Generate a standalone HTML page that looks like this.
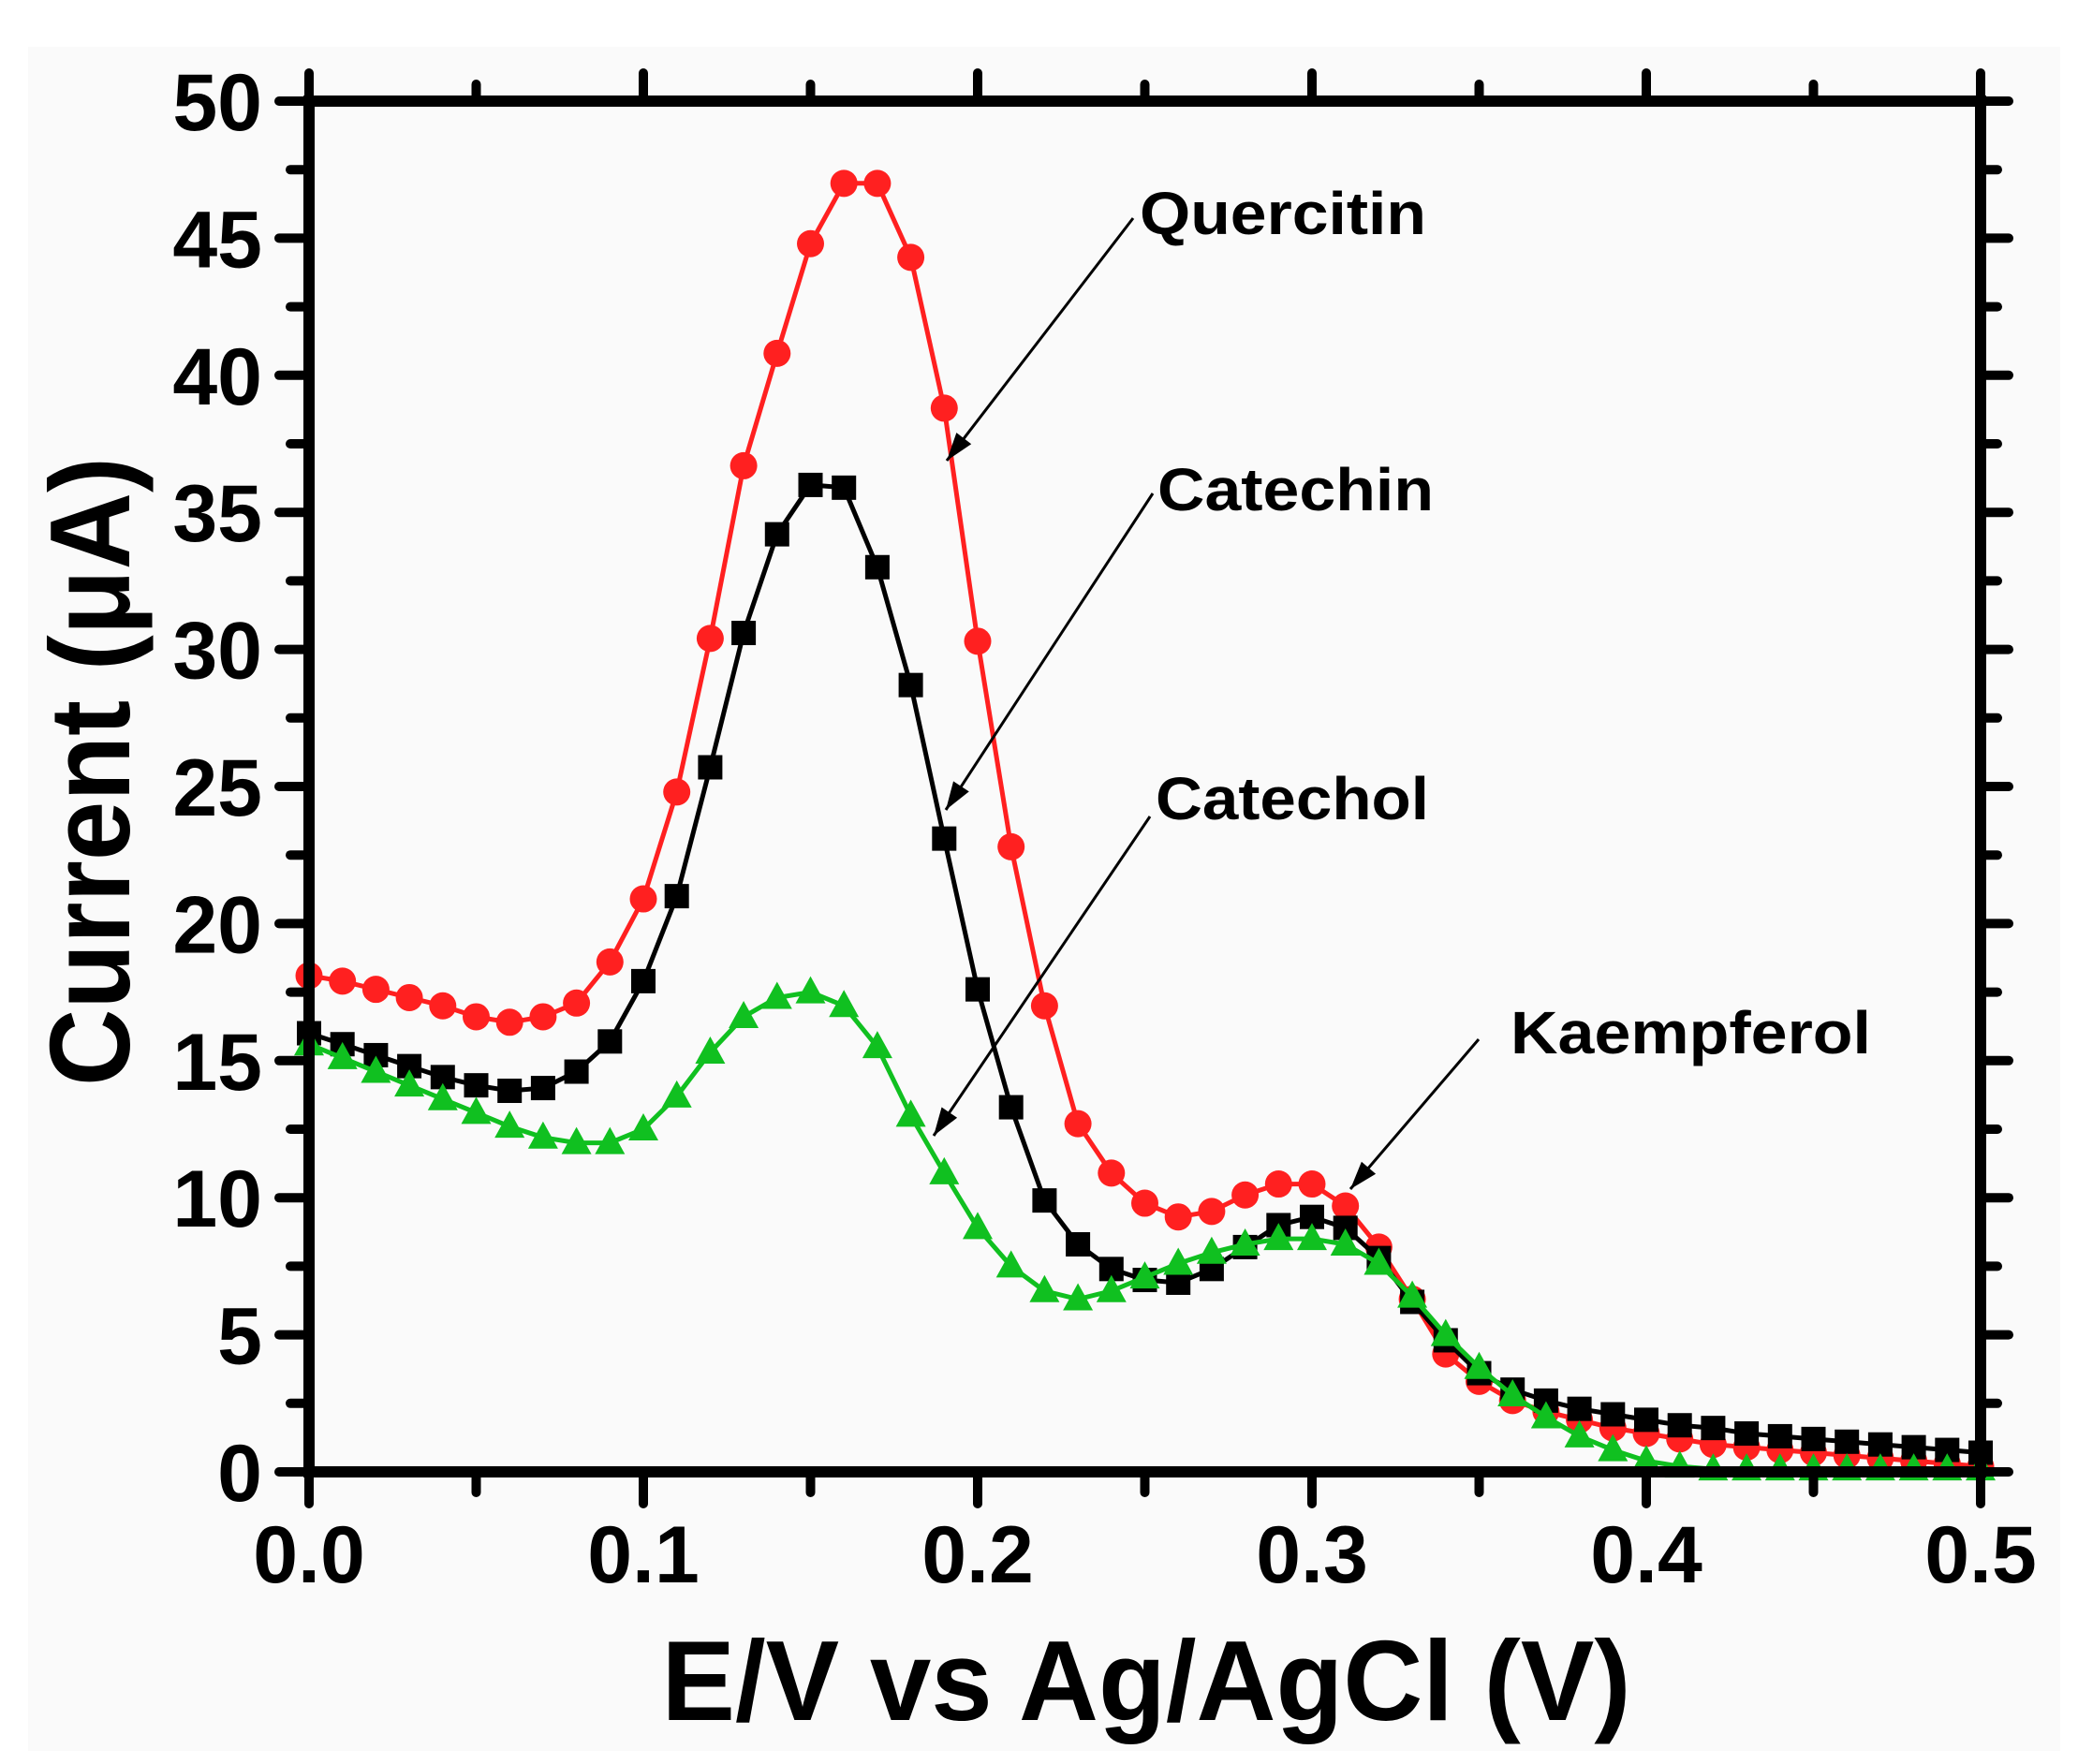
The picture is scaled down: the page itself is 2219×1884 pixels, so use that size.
<!DOCTYPE html>
<html><head><meta charset="utf-8"><style>
html,body{margin:0;padding:0;background:#fff;}
svg{display:block;}
text{font-family:"Liberation Sans",Arial,sans-serif;font-weight:bold;fill:#000;}
</style></head>
<body>
<svg id="chart" width="2219" height="1884" viewBox="0 0 2219 1884" xmlns="http://www.w3.org/2000/svg">
<rect x="0" y="0" width="2219" height="1884" fill="#fff"/>
<rect x="30" y="50" width="2170" height="1820" fill="#fafafa"/>
<g id="marks"></g>
<g id="axes"></g>
<g id="annot">
<text x="1217" y="250" font-size="64" textLength="306" lengthAdjust="spacingAndGlyphs">Quercitin</text>
<text x="1236" y="545" font-size="64" textLength="295" lengthAdjust="spacingAndGlyphs">Catechin</text>
<text x="1234" y="875" font-size="64" textLength="292" lengthAdjust="spacingAndGlyphs">Catechol</text>
<text x="1613" y="1125" font-size="64" textLength="385" lengthAdjust="spacingAndGlyphs">Kaempferol</text>
</g>
<text x="1224" y="1837" font-size="122" text-anchor="middle" textLength="1035" lengthAdjust="spacingAndGlyphs">E/V vs Ag/AgCl (V)</text>
<text transform="translate(138,824) rotate(-90)" x="0" y="0" font-size="122" text-anchor="middle" textLength="672" lengthAdjust="spacingAndGlyphs">Current (μA)</text>
</svg>
<script>
const xValues = [0,0.01,0.02,0.03,0.04,0.05,0.06,0.07,0.08,0.09,0.10,0.11,0.12,0.13,0.14,0.15,0.16,0.17,0.18,0.19,0.20,0.21,0.22,0.23,0.24,0.25,0.26,0.27,0.28,0.29,0.30,0.31,0.32,0.33,0.34,0.35,0.36,0.37,0.38,0.39,0.40,0.41,0.42,0.43,0.44,0.45,0.46,0.47,0.48,0.49,0.50];
const quercitin = [18.1,17.9,17.6,17.3,17.0,16.6,16.4,16.6,17.1,18.6,20.9,24.8,30.4,36.7,40.8,44.8,47.0,47.0,44.3,38.8,30.3,22.8,17.0,12.7,10.9,9.8,9.3,9.5,10.1,10.5,10.5,9.7,8.2,6.3,4.3,3.3,2.6,2.2,1.9,1.6,1.4,1.2,1.0,0.9,0.8,0.7,0.6,0.5,0.4,0.3,0.2];
const catechin = [16.0,15.6,15.2,14.8,14.4,14.1,13.9,14.0,14.6,15.7,17.9,21.0,25.7,30.6,34.2,36.0,35.9,33.0,28.7,23.1,17.6,13.3,9.9,8.3,7.4,7.0,6.9,7.4,8.2,9.0,9.3,8.9,7.8,6.2,4.8,3.6,3.0,2.6,2.3,2.1,1.9,1.7,1.6,1.4,1.3,1.2,1.1,1.0,0.9,0.8,0.7];
const catechol = [15.6,15.1,14.6,14.1,13.6,13.1,12.6,12.2,12.0,12.0,12.5,13.7,15.3,16.6,17.3,17.5,17.0,15.5,13.0,10.9,8.9,7.5,6.6,6.3,6.6,7.1,7.6,8.0,8.3,8.5,8.5,8.3,7.6,6.4,5.0,3.8,2.8,2.0,1.3,0.8,0.4,0.2,0.1,0.1,0.1,0.1,0.1,0.1,0.1,0.1,0.1];
const xTicks = [0,0.1,0.2,0.3,0.4,0.5];
const xTickLabels = ["0.0","0.1","0.2","0.3","0.4","0.5"];
const yTicks = [0,5,10,15,20,25,30,35,40,45,50];
const yTickLabels = ["0","5","10","15","20","25","30","35","40","45","50"];

const NS = "http://www.w3.org/2000/svg";
const X0 = 330, X1 = 2115, Y0 = 1572, Y1 = 108;
function sx(v){ return X0 + (v - 0) / 0.5 * (X1 - X0); }
function sy(v){ return Y0 - (v - 0) / 50 * (Y0 - Y1); }
function mk(tag, attrs){ const e = document.createElementNS(NS, tag); for (const k in attrs) e.setAttribute(k, attrs[k]); return e; }

const marks = document.getElementById('marks');
function drawSeries(vals, color, shape, name){
  const g = mk('g', {});
  
  
  const pts = vals.map((v,i) => sx(xValues[i]).toFixed(1) + ',' + sy(v).toFixed(1)).join(' ');
  const line = mk('polyline', {points: pts, fill: 'none', stroke: color, 'stroke-width': 5});
  
  
  g.appendChild(line);
  vals.forEach((v,i) => {
    const cx = sx(xValues[i]), cy = sy(v);
    let m;
    if (shape === 'circle') m = mk('circle', {cx: cx, cy: cy, r: 14.5, fill: color});
    else if (shape === 'square') m = mk('rect', {x: cx-13, y: cy-13, width: 26, height: 26, fill: color});
    else m = mk('polygon', {points: `${cx},${cy-17} ${cx-16},${cy+12} ${cx+16},${cy+12}`, fill: color});
    
    
    g.appendChild(m);
  });
  marks.appendChild(g);
}
drawSeries(quercitin, '#ff2020', 'circle', 'quercitin');
drawSeries(catechin, '#000000', 'square', 'catechin');
drawSeries(catechol, '#10c020', 'triangle', 'catechol');

const axes = document.getElementById('axes');
const frame = mk('rect', {x: X0, y: Y1, width: X1 - X0, height: Y0 - Y1, fill: 'none', stroke: '#000', 'stroke-width': 12});


axes.appendChild(frame);
function tick(x1,y1,x2,y2,name){
  const t = mk('line', {x1:x1,y1:y1,x2:x2,y2:y2,stroke:'#000','stroke-width':10,'stroke-linecap':'round'});
  
  
  axes.appendChild(t);
}
xTicks.forEach((v,i) => {
  const x = sx(v);
  tick(x, Y0, x, Y0 + 34, 'x-major-tick');
  tick(x, Y1, x, Y1 - 30, 'x-top-tick');
  if (i < xTicks.length - 1) {
    const xm = sx(v + 0.05);
    tick(xm, Y0, xm, Y0 + 22, 'x-minor-tick');
    tick(xm, Y1, xm, Y1 - 18, 'x-top-minor-tick');
  }
  const t = mk('text', {x: x, y: 1690, 'font-size': 86, 'text-anchor': 'middle'});
  t.textContent = xTickLabels[i];
  
  
  axes.appendChild(t);
});
yTicks.forEach((v,i) => {
  const y = sy(v);
  tick(X0, y, X0 - 32, y, 'y-major-tick');
  tick(X1, y, X1 + 30, y, 'y-right-tick');
  if (i < yTicks.length - 1) {
    const ym = sy(v + 2.5);
    tick(X0, ym, X0 - 20, ym, 'y-minor-tick');
    tick(X1, ym, X1 + 18, ym, 'y-right-minor-tick');
  }
  const t = mk('text', {x: 280, y: y + 31, 'font-size': 86, 'text-anchor': 'end'});
  t.textContent = yTickLabels[i];
  
  
  axes.appendChild(t);
});

const annot = document.getElementById('annot');
function arrow(x1,y1,x2,y2,name){
  const g = mk('g', {});
  
  
  g.appendChild(mk('line', {x1:x1,y1:y1,x2:x2,y2:y2,stroke:'#000','stroke-width':3}));
  const a = Math.atan2(y2-y1, x2-x1), L = 30, W = 10;
  const bx = x2 - L*Math.cos(a), by = y2 - L*Math.sin(a);
  const px = -Math.sin(a)*W, py = Math.cos(a)*W;
  g.appendChild(mk('polygon', {points: `${x2},${y2} ${bx+px},${by+py} ${bx-px},${by-py}`, fill:'#000'}));
  annot.appendChild(g);
}
arrow(1210,233,1011,492,'arrow-quercitin');
arrow(1231,527,1010,865,'arrow-catechin');
arrow(1228,872,997,1213,'arrow-catechol');
arrow(1579,1110,1442,1270,'arrow-kaempferol');
</script>
</body></html>
